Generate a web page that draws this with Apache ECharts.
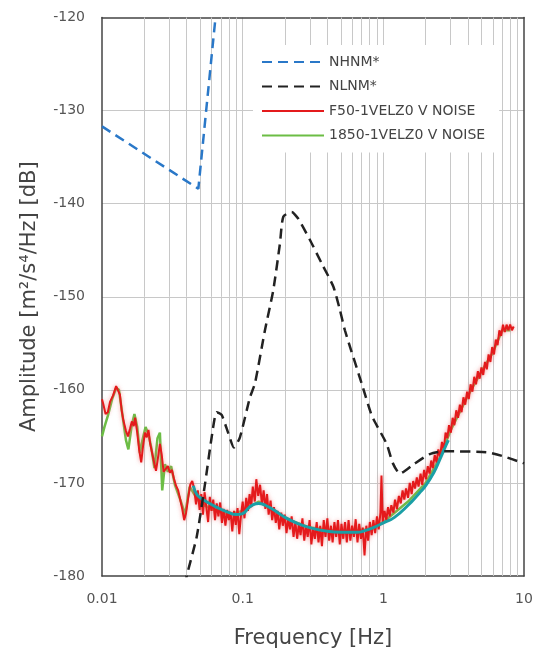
<!DOCTYPE html>
<html>
<head>
<meta charset="utf-8">
<script src="https://cdn.jsdelivr.net/npm/echarts@6/dist/echarts.min.js"></script>
<style>
  html, body { margin: 0; padding: 0; background: #fff; }
  #chart { width: 545px; height: 657px; }
</style>
</head>
<body>
<div id="chart"></div>
<script>
// New High Noise Model (blue dashed)
const nhnmFreq = [0.01, 0.0484, 0.0641]
const nhnmAmp = [-131.7, -138.4, -120]

// New Low Noise Model (black dashed)
const nlnmFreq = [0.039, 0.04, 0.0471, 0.054, 0.0602, 0.0653, 0.0709, 0.0792, 0.0867, 0.0956,
  0.1127, 0.1223, 0.144, 0.165, 0.184, 0.1945, 0.223, 0.248, 0.301, 0.364, 0.441, 0.491,
  0.533, 0.701, 0.83, 1.055, 1.17, 1.31, 1.64, 2.14, 2.7, 5.42, 7.0, 10]
const nlnmAmp = [-181, -180, -175.8, -170.1, -165.1, -162.4, -162.7, -164.7, -166.2, -165.1,
  -160.8, -159.3, -153.6, -149.3, -144.3, -141.4, -140.9, -141.6, -143.9, -146.4, -148.9, -151.4,
  -153.6, -159.3, -162.8, -165.8, -167.9, -169.0, -168.0, -166.9, -166.6, -166.7, -167.1, -167.9]

// F50-1VELZ0 V NOISE (red)
const redFreq = [0.0100, 0.0102, 0.0106, 0.0110, 0.0114, 0.0120, 0.0126, 0.0130, 0.0134, 0.0138,
  0.0142, 0.0148, 0.0153, 0.0158, 0.0163, 0.0168, 0.0172, 0.0178, 0.0184, 0.0190,
  0.0196, 0.0202, 0.0208, 0.0214, 0.0220, 0.0228, 0.0236, 0.0242, 0.0250, 0.0258,
  0.0266, 0.0274, 0.0284, 0.0294, 0.0304, 0.0314, 0.0324, 0.0336, 0.0348, 0.0360,
  0.0372, 0.0384, 0.0396, 0.0410, 0.0424, 0.0438, 0.0452,
  0.0466, 0.0480, 0.0494, 0.0508, 0.0522, 0.0536, 0.0552, 0.0568, 0.0584, 0.0600,
  0.0618, 0.0636, 0.0654, 0.0672, 0.0692, 0.0712, 0.0732, 0.0754, 0.0776, 0.0798,
  0.0820, 0.0844, 0.0868, 0.0894, 0.0920, 0.0946, 0.0974, 0.100, 0.103, 0.106,
  0.109, 0.112, 0.115, 0.118, 0.122, 0.125, 0.129, 0.133, 0.137, 0.141,
  0.145, 0.149, 0.153, 0.158, 0.162, 0.167, 0.172, 0.177, 0.182, 0.188,
  0.193, 0.199, 0.205, 0.211, 0.217, 0.223, 0.230, 0.237, 0.244, 0.251,
  0.258, 0.266, 0.274, 0.282, 0.290, 0.299, 0.308, 0.317, 0.326, 0.336,
  0.346, 0.356, 0.366, 0.377, 0.388, 0.400, 0.412, 0.424, 0.436, 0.449,
  0.462, 0.476, 0.490, 0.504, 0.519, 0.534, 0.550, 0.566, 0.583, 0.600,
  0.618, 0.636, 0.655, 0.674, 0.694, 0.714, 0.735, 0.757, 0.779, 0.802,
  0.826, 0.850, 0.875, 0.901, 0.927, 0.954, 0.970, 0.990, 1.02, 1.05,
  1.08, 1.11, 1.14, 1.18, 1.21, 1.25, 1.29, 1.33, 1.37, 1.41,
  1.45, 1.50, 1.54, 1.59, 1.63, 1.68, 1.73, 1.78, 1.84, 1.89,
  1.95, 2.01, 2.07, 2.13, 2.19, 2.25, 2.32, 2.39, 2.46, 2.53,
  2.61, 2.69, 2.77, 2.85, 2.93, 3.02, 3.11, 3.20, 3.30, 3.40,
  3.50, 3.60, 3.71, 3.82, 3.94, 4.05, 4.17, 4.30, 4.43, 4.56,
  4.70, 4.84, 4.98, 5.13, 5.28, 5.44, 5.60, 5.77, 5.94, 6.12,
  6.30, 6.49, 6.68, 6.88, 7.09, 7.30, 7.52, 7.74, 7.97, 8.21, 8.45]
const redAmp = [-161.0, -161.5, -162.6, -162.4, -161.3, -160.6, -159.6, -159.4, -160.5, -162.2,
  -163.3, -164.4, -165.0, -164.2, -163.4, -163.9, -163.0, -164.6, -166.5, -167.8,
  -166.0, -164.6, -165.1, -164.3, -165.8, -166.9, -168.0, -168.7, -167.3, -165.8,
  -167.0, -168.8, -168.5, -168.2, -168.9, -168.6, -169.5, -170.3, -170.8, -171.8,
  -172.8, -174.0, -173.2, -171.6, -170.2, -169.8, -170.6,
  -172.3, -170.8, -172.9, -171.2, -173.4, -171.0, -172.6, -174.2, -171.5, -173.0,
  -171.8, -174.0, -172.2, -173.6, -172.1, -174.3, -172.8, -174.6, -172.9, -174.0,
  -173.1, -175.2, -173.0, -174.5, -172.7, -175.5, -173.4, -172.0, -173.8, -171.6,
  -173.0, -171.2, -172.6, -170.4, -172.0, -169.6, -171.4, -170.2, -172.3, -170.8,
  -172.8, -171.2, -173.4, -171.9, -174.0, -172.6, -174.3, -173.0, -175.0, -173.2,
  -174.6, -173.4, -175.4, -173.8, -175.0, -173.6, -175.8, -174.2, -176.0, -174.4,
  -175.6, -173.8, -176.2, -174.6, -175.8, -174.0, -176.6, -174.8, -176.0, -174.2,
  -176.4, -174.6, -176.8, -174.0, -175.8, -173.8, -176.2, -174.6, -176.4, -174.2,
  -175.8, -174.0, -176.6, -174.4, -176.0, -174.2, -176.4, -174.0, -176.2, -174.6,
  -175.8, -173.9, -176.4, -174.4, -176.0, -174.8, -177.8, -174.6, -176.2, -174.2,
  -175.6, -174.0, -175.4, -173.6, -175.0, -173.2, -169.2, -174.2, -173.0, -174.0,
  -172.6, -173.6, -172.4, -173.2, -171.8, -172.8, -171.4, -172.2, -170.8, -171.8,
  -170.6, -171.6, -170.0, -171.2, -169.8, -170.6, -169.4, -170.4, -169.0, -170.2,
  -168.6, -169.6, -168.2, -169.0, -167.6, -168.4, -167.0, -167.8, -166.4, -167.2,
  -165.6, -166.4, -164.6, -165.2, -163.8, -164.6, -163.0, -163.8, -162.2, -163.0,
  -161.6, -162.4, -160.8, -161.6, -160.2, -161.0, -159.4, -160.2, -158.6, -159.4,
  -158.0, -158.8, -157.6, -158.4, -157.0, -157.8, -156.2, -157.0, -155.4, -156.2,
  -154.6, -155.2, -153.6, -154.2, -153.0, -153.8, -153.0, -153.6, -153.0, -153.6, -153.2]

// 1850-1VELZ0 V NOISE (green, mostly hidden under red)
const greenFreq = [0.0100, 0.0104, 0.0110, 0.0118, 0.0126, 0.0132, 0.0140, 0.0148, 0.0154, 0.0162,
  0.0170, 0.0178, 0.0186, 0.0194, 0.0204, 0.0214, 0.0224, 0.0236, 0.0248, 0.0258,
  0.0268, 0.0280, 0.0294, 0.0310, 0.0330, 0.0360, 0.0390, 0.0420, 0.0460, 0.050,
  0.060, 0.080, 0.100, 0.130, 0.200, 0.300, 0.500, 0.800, 1.00, 1.50,
  2.00, 2.50, 3.00, 4.00, 5.00, 6.00, 7.00, 8.00]
const greenAmp = [-165.0, -164.0, -162.8, -161.0, -159.8, -160.0, -162.8, -165.4, -166.4, -164.0,
  -162.6, -164.0, -166.8, -165.4, -164.0, -164.8, -166.2, -168.4, -165.2, -164.6,
  -170.8, -168.0, -168.8, -168.2, -170.2, -171.8, -173.4, -170.4, -171.4, -172.2,
  -172.8, -173.4, -173.0, -172.0, -173.8, -174.8, -175.2, -175.0, -174.2, -172.0,
  -170.0, -167.4, -164.4, -160.6, -158.0, -156.0, -153.6, -153.6]

// smoothed fit (teal, not in legend)
const fitFreq = [0.0446, 0.047, 0.050, 0.055, 0.065, 0.080, 0.090, 0.100, 0.110, 0.120,
  0.130, 0.145, 0.170, 0.200, 0.250, 0.300, 0.400, 0.500, 0.650, 0.750,
  0.850, 1.00, 1.20, 1.50, 1.80, 2.00, 2.30, 2.50, 2.80, 2.90]
const fitAmp = [-170.3, -171.2, -171.6, -172.0, -172.6, -173.2, -173.4, -173.3, -172.7, -172.3,
  -172.2, -172.4, -173.0, -173.7, -174.4, -174.8, -175.2, -175.3, -175.3, -175.1,
  -174.8, -174.3, -173.7, -172.4, -171.1, -170.3, -168.8, -167.6, -165.9, -165.4]

// minor vertical grid lines of the log axis
const minorGrid = [0.02, 0.03, 0.04, 0.05, 0.06, 0.07, 0.08, 0.09,
  0.2, 0.3, 0.4, 0.5, 0.6, 0.7, 0.8, 0.9,
  2, 3, 4, 5, 6, 7, 8, 9]

const zip = (xs, ys) => xs.map((x, i) => [x, ys[i]])
const font = 'DejaVu Sans'
const frame = { show: true, onZero: false, lineStyle: { color: '#444', width: 1.5 } }
const gridLine = { show: true, showMinLine: false, showMaxLine: false, lineStyle: { color: '#c8c8c8', width: 1 } }

const chart = echarts.init(document.getElementById('chart'))
const option = {
  animation: false,
  grid: {
    left: 102,
    right: 21,
    top: 17.5,
    bottom: 81
  },
  legend: {
    data: ['NHNM*', 'NLNM*', 'F50-1VELZ0 V NOISE', '1850-1VELZ0 V NOISE'],
    orient: 'vertical',
    left: 253,
    top: 45,
    z: 20,
    padding: [10, 14, 10, 8],
    itemWidth: 62,
    itemHeight: 14,
    itemGap: 10.5,
    backgroundColor: '#fff',
    itemStyle: { opacity: 0 },
    textStyle: { fontFamily: font, fontSize: 14, color: '#444' }
  },
  xAxis: [
    {
      type: 'log',
      logBase: 10,
      min: 0.01,
      max: 10,
      name: 'Frequency [Hz]',
      nameLocation: 'middle',
      nameGap: 52,
      nameTextStyle: { fontFamily: font, fontSize: 21, color: '#444' },
      axisLine: frame,
      axisTick: { show: false },
      axisLabel: {
        margin: 16,
        fontFamily: font,
        fontSize: 14,
        color: '#555',
        formatter: v => String(+Number(v).toPrecision(3))
      },
      splitLine: gridLine
    },
    {
      type: 'log',
      logBase: 10,
      min: 0.01,
      max: 10,
      position: 'top',
      axisLine: frame,
      axisTick: { show: false },
      axisLabel: { show: false },
      splitLine: { show: false }
    }
  ],
  yAxis: [
    {
      type: 'value',
      min: -180,
      max: -120,
      interval: 10,
      name: 'Amplitude [m²/s⁴/Hz] [dB]',
      nameLocation: 'middle',
      nameGap: 62,
      nameTextStyle: { fontFamily: font, fontSize: 21, color: '#444' },
      axisLine: frame,
      axisTick: { show: false },
      axisLabel: { margin: 17, fontFamily: font, fontSize: 14, color: '#555' },
      splitLine: gridLine
    },
    {
      type: 'value',
      min: -180,
      max: -120,
      interval: 10,
      position: 'right',
      axisLine: frame,
      axisTick: { show: false },
      axisLabel: { show: false },
      splitLine: { show: false }
    }
  ],
  series: [
    {
      name: '1850-1VELZ0 V NOISE',
      type: 'line',
      data: zip(greenFreq, greenAmp),
      symbol: 'none',
      lineStyle: { color: '#6cbd45', width: 2.5 },
      itemStyle: { color: '#6cbd45' },
      markLine: {
        silent: true,
        z: 1,
        symbol: 'none',
        label: { show: false },
        lineStyle: { color: '#c8c8c8', width: 1, type: 'solid' },
        data: minorGrid.map(f => ({ xAxis: f }))
      },
      z: 2
    },
    {
      name: 'F50-1VELZ0 V NOISE',
      type: 'line',
      data: zip(redFreq, redAmp),
      symbol: 'none',
      lineStyle: {
        color: '#e41a1c',
        width: 2,
        shadowColor: 'rgba(240,110,110,0.7)',
        shadowBlur: 4
      },
      itemStyle: { color: '#e41a1c' },
      z: 3
    },
    {
      name: 'fit',
      type: 'line',
      data: zip(fitFreq, fitAmp),
      symbol: 'none',
      smooth: true,
      lineStyle: { color: '#1a9fa6', width: 3 },
      z: 4
    },
    {
      name: 'NLNM*',
      type: 'line',
      data: zip(nlnmFreq, nlnmAmp),
      symbol: 'none',
      smooth: 0.2,
      lineStyle: { color: '#222', width: 2.5, type: [10, 6] },
      itemStyle: { color: '#222' },
      z: 5
    },
    {
      name: 'NHNM*',
      type: 'line',
      data: zip(nhnmFreq, nhnmAmp),
      symbol: 'none',
      lineStyle: { color: '#2a78c8', width: 2.5, type: [10, 6] },
      itemStyle: { color: '#2a78c8' },
      z: 5
    }
  ]
}
chart.setOption(option)
window.addEventListener('resize', () => {
  chart.resize()
})
</script>
</body>
</html>
